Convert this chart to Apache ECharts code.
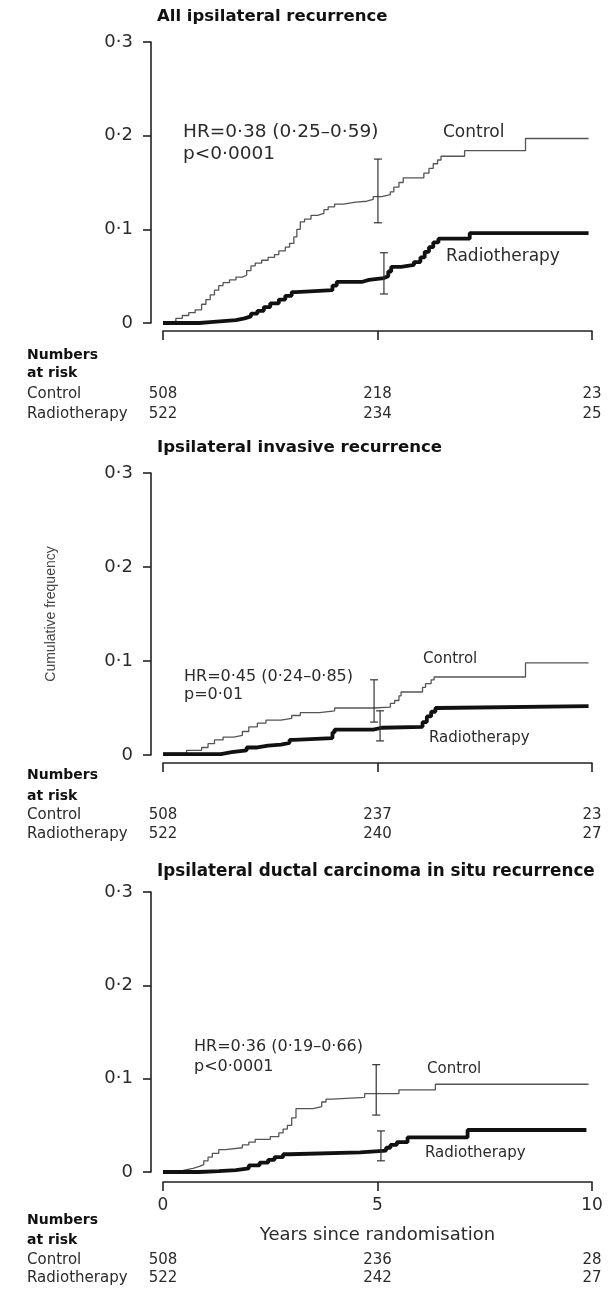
<!DOCTYPE html>
<html>
<head>
<meta charset="utf-8">
<script src="https://cdn.jsdelivr.net/npm/echarts@6/dist/echarts.min.js"></script>
<style>
  html, body { margin: 0; padding: 0; background: #fff; }
  #chart { width: 608px; height: 1289px; }
</style>
</head>
<body>
<div id="chart"></div>
<script>
// ---- Data -------------------------------------------------------------
const yTickLabels = ['0', '0·1', '0·2', '0·3'];
const xTickLabels = ['0', '5', '10'];

const panelTitles = [
  'All ipsilateral recurrence',
  'Ipsilateral invasive recurrence',
  'Ipsilateral ductal carcinoma in situ recurrence'
];
const hrTexts = ['HR=0·38 (0·25–0·59)', 'HR=0·45 (0·24–0·85)', 'HR=0·36 (0·19–0·66)'];
const pTexts = ['p<0·0001', 'p=0·01', 'p<0·0001'];
const groupNames = ['Control', 'Radiotherapy'];

// numbers at risk at 0, 5 and 10 years
const riskControl = [[508, 218, 23], [508, 237, 23], [508, 236, 28]];
const riskRadio = [[522, 234, 25], [522, 240, 27], [522, 242, 27]];

// cumulative frequency steps: [years, level from that time on]
const controlAll = [[0,0],[0.15,0.002],[0.3,0.005],[0.45,0.008],[0.6,0.011],[0.75,0.014],[0.9,0.02],[1.0,0.025],[1.1,0.030],[1.2,0.035],[1.3,0.040],[1.4,0.043],[1.55,0.046],[1.7,0.049],[1.85,0.051],[1.95,0.056],[2.05,0.061],[2.15,0.064],[2.3,0.067],[2.45,0.070],[2.6,0.073],[2.7,0.077],[2.85,0.081],[2.95,0.085],[3.05,0.092],[3.12,0.100],[3.2,0.108],[3.3,0.111],[3.45,0.115],[3.6,0.117],[3.75,0.121],[3.85,0.124],[4.0,0.127],[4.2,0.129],[4.5,0.130],[4.75,0.132],[4.9,0.135],[5.1,0.137],[5.3,0.140],[5.38,0.145],[5.5,0.150],[5.6,0.155],[6.08,0.160],[6.2,0.165],[6.3,0.170],[6.4,0.174],[6.48,0.178],[7.03,0.184],[8.45,0.197],[9.92,0.197]];
const radioAll = [[0,0],[0.85,0.001],[1.1,0.002],[1.4,0.003],[1.7,0.005],[1.9,0.007],[2.05,0.010],[2.2,0.013],[2.35,0.017],[2.5,0.021],[2.7,0.025],[2.85,0.029],[3.0,0.033],[3.1,0.035],[3.95,0.040],[4.05,0.044],[4.65,0.046],[4.8,0.048],[5.15,0.050],[5.25,0.055],[5.32,0.060],[5.55,0.062],[5.85,0.065],[6.0,0.070],[6.1,0.076],[6.2,0.081],[6.3,0.086],[6.42,0.090],[7.15,0.096],[9.92,0.096]];

const controlInvasive = [[0,0.002],[0.55,0.005],[0.9,0.008],[1.05,0.012],[1.2,0.016],[1.4,0.019],[1.65,0.021],[1.85,0.025],[2.0,0.030],[2.2,0.034],[2.4,0.037],[2.75,0.039],[3.0,0.042],[3.2,0.045],[3.65,0.047],[4.0,0.050],[4.9,0.051],[5.3,0.055],[5.4,0.058],[5.5,0.063],[5.55,0.067],[6.05,0.072],[6.12,0.076],[6.25,0.080],[6.32,0.083],[8.45,0.098],[9.92,0.098]];
const radioInvasive = [[0,0.001],[1.35,0.003],[1.6,0.005],[1.95,0.008],[2.2,0.010],[2.45,0.011],[2.75,0.013],[2.95,0.016],[3.05,0.018],[3.95,0.024],[4.0,0.027],[4.9,0.029],[5.1,0.030],[6.05,0.035],[6.15,0.041],[6.25,0.046],[6.35,0.050],[6.4,0.052],[9.92,0.052]];

const controlDcis = [[0,0],[0.35,0.002],[0.5,0.004],[0.7,0.006],[0.85,0.008],[0.95,0.012],[1.05,0.016],[1.15,0.020],[1.3,0.024],[1.45,0.026],[1.85,0.029],[2.0,0.032],[2.15,0.035],[2.5,0.038],[2.7,0.042],[2.8,0.046],[2.9,0.050],[3.0,0.058],[3.1,0.068],[3.5,0.070],[3.7,0.075],[3.8,0.078],[3.95,0.080],[4.7,0.084],[5.5,0.088],[6.35,0.094],[9.92,0.094]];
const radioDcis = [[0,0],[0.85,0.001],[1.3,0.002],[1.7,0.004],[2.0,0.007],[2.25,0.010],[2.45,0.013],[2.6,0.016],[2.8,0.019],[2.95,0.021],[4.6,0.023],[5.2,0.026],[5.3,0.029],[5.45,0.032],[5.7,0.037],[7.1,0.045],[9.87,0.045]];

// 95% CI bars at 5 years: [years, lower, upper]
const ciControl = [[5.01, 0.107, 0.175], [4.92, 0.035, 0.080], [4.97, 0.061, 0.115]];
const ciRadio = [[5.15, 0.031, 0.075], [5.06, 0.015, 0.047], [5.08, 0.012, 0.044]];

const controlCurves = [controlAll, controlInvasive, controlDcis];
const radioCurves = [radioAll, radioInvasive, radioDcis];

// ---- Layout -----------------------------------------------------------
const FONT = '"DejaVu Sans", sans-serif';
const INK = '#2b2b2b';
const panels = [
  { top: 42,  height: 281, titleY: 17,  titleSize: 16.5, hrX: 183, hrY: 132, pY: 154, hrSize: 18.5,
    ctrlX: 443, ctrlY: 133, radX: 446, radY: 257, lblSize: 17,
    riskY: [355, 373, 394, 414] },
  { top: 473, height: 282, titleY: 448, titleSize: 16.6, hrX: 184, hrY: 677, pY: 695, hrSize: 16,
    ctrlX: 423, ctrlY: 659, radX: 429, radY: 738, lblSize: 15,
    riskY: [775, 796, 815, 834] },
  { top: 892, height: 280, titleY: 872, titleSize: 16.8, hrX: 194, hrY: 1047, pY: 1067, hrSize: 16,
    ctrlX: 427, ctrlY: 1069, radX: 425, radY: 1153, lblSize: 15,
    riskY: [1220, 1240, 1260, 1278] }
];
const GRID_LEFT = 163, GRID_WIDTH = 429;

const grids = [], xAxes = [], yAxes = [], series = [], graphics = [];

function text(str, x, y, size, opts) {
  opts = opts || {};
  return {
    type: 'text', silent: true,
    style: {
      text: str, x: x, y: y,
      font: (opts.bold ? 'bold ' : '') + size + 'px ' + FONT,
      fill: opts.fill || INK,
      textAlign: 'left', align: 'left',
      textVerticalAlign: 'middle', verticalAlign: 'middle'
    }
  };
}

function ciRender(params, api) {
  const x = api.value(0);
  const top = api.coord([x, api.value(2)]);
  const bot = api.coord([x, api.value(1)]);
  const half = 4;
  const st = { stroke: '#333', lineWidth: 1.2 };
  return {
    type: 'group',
    children: [
      { type: 'line', shape: { x1: top[0], y1: top[1], x2: bot[0], y2: bot[1] }, style: st },
      { type: 'line', shape: { x1: top[0] - half, y1: top[1], x2: top[0] + half, y2: top[1] }, style: st },
      { type: 'line', shape: { x1: bot[0] - half, y1: bot[1], x2: bot[0] + half, y2: bot[1] }, style: st }
    ]
  };
}

panels.forEach(function (p, i) {
  const bottomY = p.top + p.height;
  const isLast = i === panels.length - 1;
  grids.push({ left: GRID_LEFT, width: GRID_WIDTH, top: p.top, height: p.height, containLabel: false });

  // main time axis, set slightly below the plotting area
  xAxes.push({
    type: 'value', gridIndex: i, min: 0, max: 10, interval: 5, position: 'bottom', offset: isLast ? 10 : 8,
    axisLine: { show: true, onZero: false, lineStyle: { color: '#222', width: 1.6 } },
    axisTick: { show: true, inside: false, length: 9, lineStyle: { color: '#222', width: 1.6 } },
    splitLine: { show: false },
    axisLabel: {
      show: isLast, margin: 15, lineHeight: 18,
      fontFamily: FONT, fontSize: 17, color: INK,
      showMinLabel: true, showMaxLabel: true,
      formatter: function (v) { return xTickLabels[Math.round(v / 5)]; }
    },
    name: isLast ? 'Years since randomisation' : '',
    nameLocation: 'middle', nameGap: 44,
    nameTextStyle: { fontFamily: FONT, fontSize: 18, color: INK, lineHeight: 18 }
  });

  // numbers at risk rows, aligned on the time ticks
  [riskControl[i], riskRadio[i]].forEach(function (row, r) {
    xAxes.push({
      type: 'value', gridIndex: i, min: 0, max: 10, interval: 5, position: 'bottom',
      offset: p.riskY[2 + r] - 9 - bottomY,
      axisLine: { show: false, onZero: false }, axisTick: { show: false }, splitLine: { show: false },
      axisLabel: {
        show: true, margin: 0, lineHeight: 18,
        fontFamily: FONT, fontSize: 15, color: INK,
        showMinLabel: true, showMaxLabel: true, hideOverlap: false,
        formatter: function (v) { return String(row[Math.round(v / 5)]); }
      }
    });
  });

  yAxes.push({
    type: 'value', gridIndex: i, min: 0, max: 0.3, interval: 0.1, position: 'left', offset: 12,
    axisLine: { show: true, onZero: false, lineStyle: { color: '#222', width: 1.6 } },
    axisTick: { show: true, inside: false, length: 8, lineStyle: { color: '#222', width: 1.6 } },
    splitLine: { show: false },
    axisLabel: {
      margin: 18, fontFamily: FONT, fontSize: 18, color: INK,
      formatter: function (v) { return yTickLabels[Math.round(v * 10)]; }
    },
    name: i === 1 ? 'Cumulative frequency' : '',
    nameLocation: 'middle', nameGap: 93,
    nameTextStyle: { fontFamily: '"Liberation Sans", Arial, sans-serif', fontSize: 14, color: '#444' }
  });

  const xi = i * 3;
  series.push({
    name: groupNames[0], type: 'line', step: 'end', xAxisIndex: xi, yAxisIndex: i,
    data: controlCurves[i], showSymbol: false, symbol: 'none',
    lineStyle: { color: '#555', width: 1.3 }, z: 3
  });
  series.push({
    name: groupNames[1], type: 'line', step: 'end', xAxisIndex: xi, yAxisIndex: i,
    data: radioCurves[i], showSymbol: false, symbol: 'none',
    lineStyle: { color: '#111', width: 3.8 }, z: 4
  });
  series.push({
    type: 'custom', xAxisIndex: xi, yAxisIndex: i, renderItem: ciRender,
    encode: { x: 0, y: [1, 2] }, data: [ciControl[i], ciRadio[i]], z: 5, silent: true
  });

  // titles, hazard ratios and curve labels
  graphics.push(text(panelTitles[i], 157, p.titleY, p.titleSize, { bold: true, fill: '#111' }));
  graphics.push(text(hrTexts[i], p.hrX, p.hrY, p.hrSize));
  graphics.push(text(pTexts[i], p.hrX, p.pY, p.hrSize));
  graphics.push(text(groupNames[0], p.ctrlX, p.ctrlY, p.lblSize));
  graphics.push(text(groupNames[1], p.radX, p.radY, p.lblSize));

  // numbers-at-risk row headings
  graphics.push(text('Numbers', 27, p.riskY[0], 14, { bold: true, fill: '#111' }));
  graphics.push(text('at risk', 27, p.riskY[1], 14, { bold: true, fill: '#111' }));
  graphics.push(text(groupNames[0], 27, p.riskY[2], 15));
  graphics.push(text(groupNames[1], 27, p.riskY[3], 15));
});

const chart = echarts.init(document.getElementById('chart'), null, { renderer: 'canvas' });
chart.setOption({
  animation: false,
  backgroundColor: '#ffffff',
  grid: grids,
  xAxis: xAxes,
  yAxis: yAxes,
  series: series,
  graphic: { elements: graphics }
});
</script>
</body>
</html>
